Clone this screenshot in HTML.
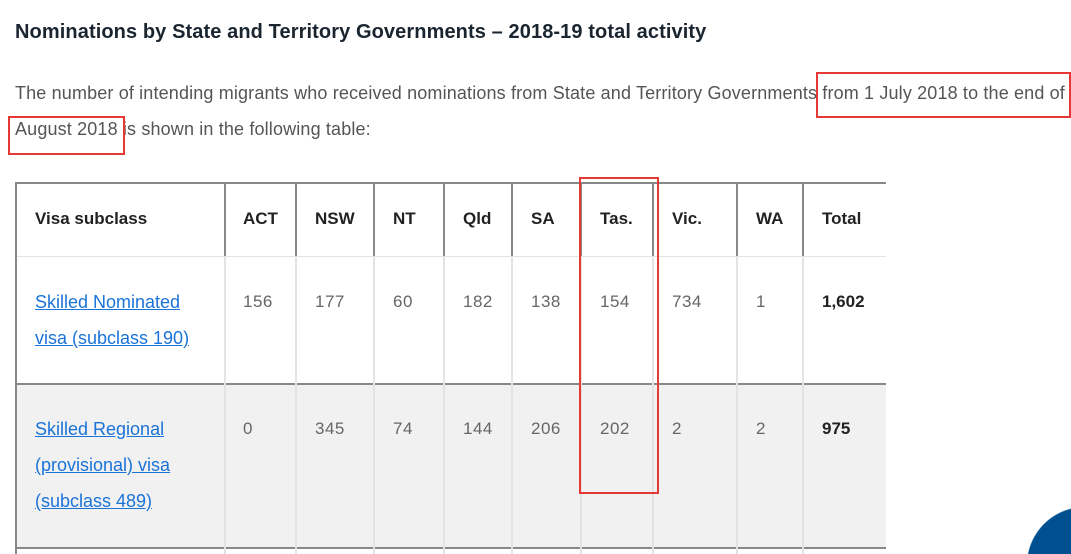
<!DOCTYPE html>
<html><head><meta charset="utf-8"><style>
html,body{margin:0;width:1071px;height:554px;overflow:hidden}
body{background:#fff;font-family:"Liberation Sans",sans-serif}
#w{position:relative;width:1071px;height:554px;overflow:hidden}
.a{position:absolute;white-space:nowrap}
h1{position:absolute;left:15px;top:21px;margin:0;font-size:20px;font-weight:bold;color:#1a2530;letter-spacing:0.1px}
.p{font-size:18px;color:#555;line-height:36px;letter-spacing:0.15px}
.v{position:absolute;width:2px}
.h{font-weight:bold;font-size:17px;color:#222}
.n{font-size:17px;color:#666;letter-spacing:0.5px}
.l{font-size:18px;color:#1a73d9;text-decoration:underline;line-height:36px}
.r{position:absolute;border:2px solid #e53935}
</style></head><body><div id="w">
<h1>Nominations by State and Territory Governments – 2018-19 total activity</h1>
<div class="a p" style="left:15px;top:75px">The number of intending migrants who received nominations from State and Territory Governments from 1 July 2018 to the end of</div>
<div class="a p" style="left:15px;top:111px">August 2018 is shown in the following table:</div>
<div class="a" style="left:15px;top:383px;width:871px;height:165px;background:#f1f1f1"></div>
<div class="a" style="left:15px;top:182px;width:871px;height:2px;background:#888"></div>
<div class="a" style="left:15px;top:256px;width:871px;height:1px;background:#e3e3e3"></div>
<div class="a" style="left:15px;top:383px;width:871px;height:2px;background:#888"></div>
<div class="a" style="left:15px;top:547px;width:871px;height:2px;background:#888"></div>
<div class="v" style="left:15px;top:182px;height:372px;background:#888"></div>
<div class="v" style="left:224px;top:182px;height:74px;background:#888"></div><div class="v" style="left:224px;top:256px;height:298px;background:#e3e3e3"></div>
<div class="v" style="left:295px;top:182px;height:74px;background:#888"></div><div class="v" style="left:295px;top:256px;height:298px;background:#e3e3e3"></div>
<div class="v" style="left:373px;top:182px;height:74px;background:#888"></div><div class="v" style="left:373px;top:256px;height:298px;background:#e3e3e3"></div>
<div class="v" style="left:443px;top:182px;height:74px;background:#888"></div><div class="v" style="left:443px;top:256px;height:298px;background:#e3e3e3"></div>
<div class="v" style="left:511px;top:182px;height:74px;background:#888"></div><div class="v" style="left:511px;top:256px;height:298px;background:#e3e3e3"></div>
<div class="v" style="left:580px;top:182px;height:74px;background:#888"></div><div class="v" style="left:580px;top:256px;height:298px;background:#e3e3e3"></div>
<div class="v" style="left:652px;top:182px;height:74px;background:#888"></div><div class="v" style="left:652px;top:256px;height:298px;background:#e3e3e3"></div>
<div class="v" style="left:736px;top:182px;height:74px;background:#888"></div><div class="v" style="left:736px;top:256px;height:298px;background:#e3e3e3"></div>
<div class="v" style="left:802px;top:182px;height:74px;background:#888"></div><div class="v" style="left:802px;top:256px;height:298px;background:#e3e3e3"></div>
<div class="a h" style="left:35px;top:209px">Visa subclass</div>
<div class="a h" style="left:243px;top:209px">ACT</div>
<div class="a h" style="left:315px;top:209px">NSW</div>
<div class="a h" style="left:393px;top:209px">NT</div>
<div class="a h" style="left:463px;top:209px">Qld</div>
<div class="a h" style="left:531px;top:209px">SA</div>
<div class="a h" style="left:600px;top:209px">Tas.</div>
<div class="a h" style="left:672px;top:209px">Vic.</div>
<div class="a h" style="left:756px;top:209px">WA</div>
<div class="a h" style="left:822px;top:209px">Total</div>
<div class="a l" style="left:35px;top:284px">Skilled Nominated<br>visa (subclass 190)</div>
<div class="a n" style="left:243px;top:292px">156</div><div class="a n" style="left:315px;top:292px">177</div><div class="a n" style="left:393px;top:292px">60</div><div class="a n" style="left:463px;top:292px">182</div><div class="a n" style="left:531px;top:292px">138</div><div class="a n" style="left:600px;top:292px">154</div><div class="a n" style="left:672px;top:292px">734</div><div class="a n" style="left:756px;top:292px">1</div><div class="a h" style="left:822px;top:292px">1,602</div>
<div class="a l" style="left:35px;top:411px">Skilled Regional<br>(provisional) visa<br>(subclass 489)</div>
<div class="a n" style="left:243px;top:419px">0</div><div class="a n" style="left:315px;top:419px">345</div><div class="a n" style="left:393px;top:419px">74</div><div class="a n" style="left:463px;top:419px">144</div><div class="a n" style="left:531px;top:419px">206</div><div class="a n" style="left:600px;top:419px">202</div><div class="a n" style="left:672px;top:419px">2</div><div class="a n" style="left:756px;top:419px">2</div><div class="a h" style="left:822px;top:419px">975</div>
<div class="r" style="left:816px;top:72px;width:251px;height:42px"></div>
<div class="r" style="left:8px;top:116px;width:113px;height:35px"></div>
<div class="r" style="left:579px;top:177px;width:76px;height:313px"></div>
<div class="a" style="left:1027px;top:507px;width:44px;height:47px;background:radial-gradient(circle 58px at 58px 58px,#004f8f 57.5px,rgba(255,255,255,0) 58.5px)"></div>
</div></body></html>
